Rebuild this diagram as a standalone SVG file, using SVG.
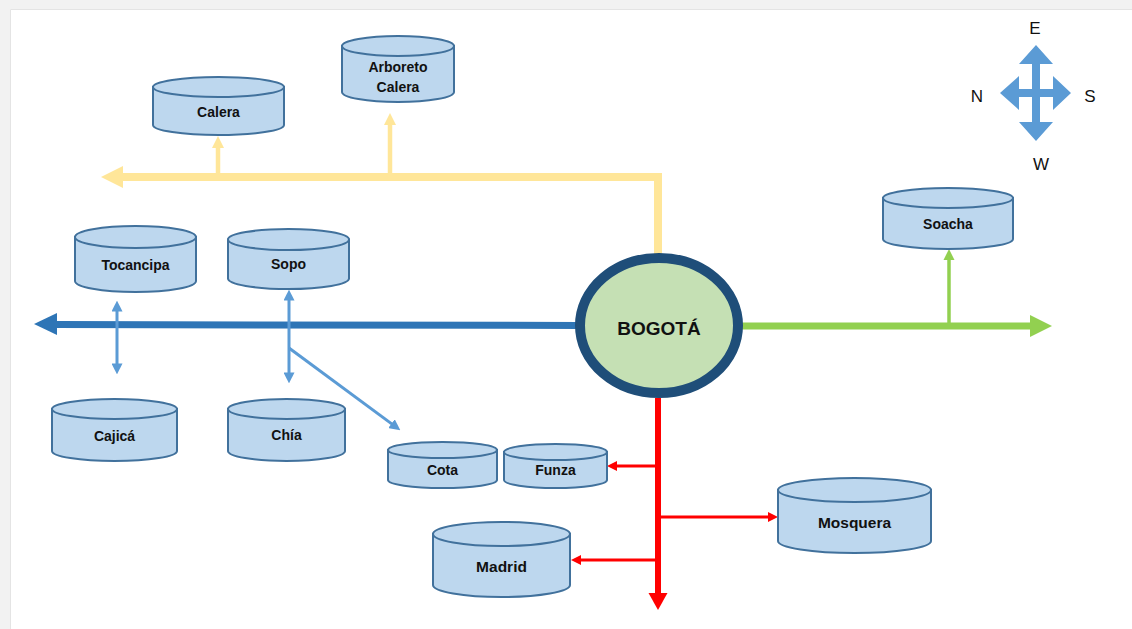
<svg xmlns="http://www.w3.org/2000/svg" width="1132" height="629" viewBox="0 0 1132 629">
  <style>
    .cyl { fill: #BDD7EE; stroke: #41719C; stroke-width: 2; }
    .lbl { font-family: "Liberation Sans", Arial, sans-serif; font-weight: bold; font-size: 14px; fill: #111; text-anchor: middle; dominant-baseline: central; }
    .big { font-size: 15.5px; }
    .dir { font-family: "Liberation Sans", Arial, sans-serif; font-size: 17px; fill: #111; text-anchor: middle; dominant-baseline: central; }
    .thin-blue { stroke: #5B9BD5; stroke-width: 3; fill: none; }
    .thin-red { stroke: #FF0000; stroke-width: 3; fill: none; }
  </style>
  <defs>
    <marker id="ah-lb" viewBox="0 0 10 10" refX="6" refY="5" markerWidth="11" markerHeight="11" orient="auto-start-reverse" markerUnits="userSpaceOnUse">
      <path d="M0,0 L10,5 L0,10 z" fill="#5B9BD5"/>
    </marker>
    <marker id="ah-red" viewBox="0 0 10 10" refX="6" refY="5" markerWidth="10" markerHeight="10" orient="auto-start-reverse" markerUnits="userSpaceOnUse">
      <path d="M0,0 L10,5 L0,10 z" fill="#FF0000"/>
    </marker>
  </defs>

  <!-- page background -->
  <rect x="0" y="0" width="1132" height="629" fill="#f2f2f2"/>
  <rect x="10" y="9" width="1122" height="620" fill="#ffffff"/>
  <path d="M10.5,629 V9.5 H1132" fill="none" stroke="#e4e4e4" stroke-width="1"/>

  <!-- connectors -->
  <g id="connectors">
    <!-- north route (yellow) -->
    <polyline points="658,260 658,177 122,177" fill="none" stroke="#FFE699" stroke-width="8"/>
    <polygon points="101,177 123,166 123,188" fill="#FFE699"/>
    <line x1="218" y1="181" x2="218" y2="146" stroke="#FFE699" stroke-width="4.5"/>
    <polygon points="218,136 224,148 212,148" fill="#FFE699"/>
    <line x1="390" y1="177" x2="390" y2="123" stroke="#FFE699" stroke-width="4.5"/>
    <polygon points="390,113 396,125 384,125" fill="#FFE699"/>

    <!-- west route (blue) -->
    <line x1="580" y1="325.5" x2="56" y2="324.5" stroke="#2E75B6" stroke-width="7"/>
    <polygon points="34,324 57,313 57,335" fill="#2E75B6"/>

    <!-- east route (green) -->
    <line x1="738" y1="326" x2="1031" y2="326" stroke="#92D050" stroke-width="7"/>
    <polygon points="1052,326 1030,315 1030,337" fill="#92D050"/>
    <line x1="949" y1="326" x2="949" y2="258" stroke="#92D050" stroke-width="3.5"/>
    <polygon points="949,249 954.5,260 943.5,260" fill="#92D050"/>

    <!-- south route (red) -->
    <line x1="658" y1="398" x2="658" y2="594" stroke="#FF0000" stroke-width="6"/>
    <polygon points="658,610 648.5,593 667.5,593" fill="#FF0000"/>
    <line class="thin-red" x1="658" y1="466" x2="611" y2="466" marker-end="url(#ah-red)"/>
    <line class="thin-red" x1="658" y1="517" x2="774" y2="517" marker-end="url(#ah-red)"/>
    <line class="thin-red" x1="658" y1="560" x2="575" y2="560" marker-end="url(#ah-red)"/>

    <!-- local links (light blue) -->
    <line class="thin-blue" x1="117" y1="305" x2="117" y2="370" marker-start="url(#ah-lb)" marker-end="url(#ah-lb)"/>
    <line class="thin-blue" x1="289" y1="294" x2="289" y2="379" marker-start="url(#ah-lb)" marker-end="url(#ah-lb)"/>
    <line class="thin-blue" x1="289" y1="348" x2="396.8" y2="427.6" marker-end="url(#ah-lb)"/>
  </g>

  <!-- hub -->
  <g id="bogota">
    <ellipse cx="659" cy="325.5" rx="79" ry="67.5" fill="#C5E0B4" stroke="#1F4E79" stroke-width="10"/>
    <text class="lbl" x="659" y="328" style="font-size:19px">BOGOTÁ</text>
  </g>

  <!-- municipalities -->
  <g id="calera">
    <path class="cyl" d="M153,87 V125 A65.5,10 0 0 0 284,125 V87 Z"/>
    <ellipse class="cyl" cx="218.5" cy="87" rx="65.5" ry="10"/>
    <text class="lbl" x="218.5" y="112">Calera</text>
  </g>
  <g id="arboreto-calera">
    <path class="cyl" d="M342,46 V92 A56,10 0 0 0 454,92 V46 Z"/>
    <ellipse class="cyl" cx="398" cy="46" rx="56" ry="10"/>
    <text class="lbl" x="398" y="67">Arboreto</text>
    <text class="lbl" x="398" y="87">Calera</text>
  </g>
  <g id="tocancipa">
    <path class="cyl" d="M75,237 V281 A60.5,11 0 0 0 196,281 V237 Z"/>
    <ellipse class="cyl" cx="135.5" cy="237" rx="60.5" ry="11"/>
    <text class="lbl" x="135.5" y="265">Tocancipa</text>
  </g>
  <g id="sopo">
    <path class="cyl" d="M228,239.5 V278.5 A60.5,10.5 0 0 0 349,278.5 V239.5 Z"/>
    <ellipse class="cyl" cx="288.5" cy="239.5" rx="60.5" ry="10.5"/>
    <text class="lbl" x="288.5" y="264">Sopo</text>
  </g>
  <g id="cajica">
    <path class="cyl" d="M52,409 V451 A62.5,10 0 0 0 177,451 V409 Z"/>
    <ellipse class="cyl" cx="114.5" cy="409" rx="62.5" ry="10"/>
    <text class="lbl" x="114.5" y="436">Cajicá</text>
  </g>
  <g id="chia">
    <path class="cyl" d="M228,409 V451 A58.5,10 0 0 0 345,451 V409 Z"/>
    <ellipse class="cyl" cx="286.5" cy="409" rx="58.5" ry="10"/>
    <text class="lbl" x="286.5" y="435">Chía</text>
  </g>
  <g id="cota">
    <path class="cyl" d="M388,450 V480 A54.5,8 0 0 0 497,480 V450 Z"/>
    <ellipse class="cyl" cx="442.5" cy="450" rx="54.5" ry="8"/>
    <text class="lbl" x="442.5" y="470">Cota</text>
  </g>
  <g id="funza">
    <path class="cyl" d="M504,452 V480 A51.5,8 0 0 0 607,480 V452 Z"/>
    <ellipse class="cyl" cx="555.5" cy="452" rx="51.5" ry="8"/>
    <text class="lbl" x="555.5" y="470">Funza</text>
  </g>
  <g id="madrid">
    <path class="cyl" d="M433,534 V585 A68.5,12 0 0 0 570,585 V534 Z"/>
    <ellipse class="cyl" cx="501.5" cy="534" rx="68.5" ry="12"/>
    <text class="lbl big" x="501.5" y="566">Madrid</text>
  </g>
  <g id="mosquera">
    <path class="cyl" d="M778,490 V541 A76.5,12 0 0 0 931,541 V490 Z"/>
    <ellipse class="cyl" cx="854.5" cy="490" rx="76.5" ry="12"/>
    <text class="lbl big" x="854.5" y="522">Mosquera</text>
  </g>
  <g id="soacha">
    <path class="cyl" d="M883,198 V239 A65,10 0 0 0 1013,239 V198 Z"/>
    <ellipse class="cyl" cx="948" cy="198" rx="65" ry="10"/>
    <text class="lbl" x="948" y="224">Soacha</text>
  </g>

  <!-- compass -->
  <g id="compass">
    <path d="M1036,45 L1053,64 L1040,64 L1040,89 L1053,89 L1053,76 L1071,93 L1053,110 L1053,97 L1040,97 L1040,122 L1053,122 L1036,141 L1019,122 L1032,122 L1032,97 L1019,97 L1019,110 L1000,93 L1019,76 L1019,89 L1032,89 L1032,64 L1019,64 Z" fill="#5B9BD5"/>
    <text class="dir" x="1035" y="28">E</text>
    <text class="dir" x="977" y="96">N</text>
    <text class="dir" x="1090" y="96">S</text>
    <text class="dir" x="1041" y="164">W</text>
  </g>
</svg>
